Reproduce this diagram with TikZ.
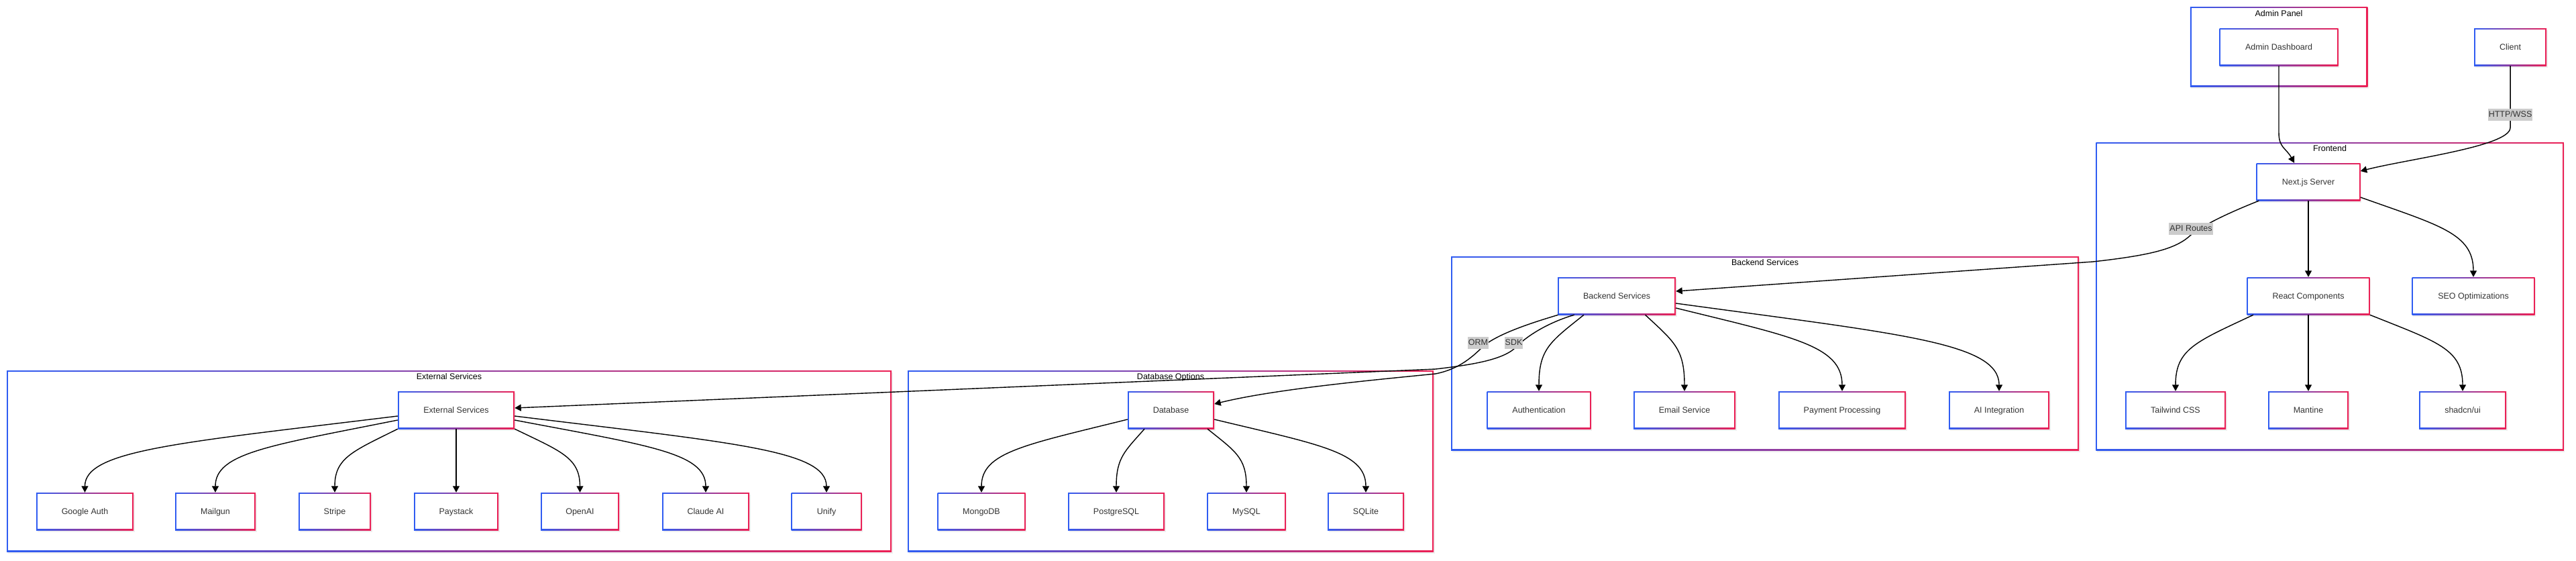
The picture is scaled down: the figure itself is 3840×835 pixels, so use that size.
\documentclass[tikz,border=0pt]{standalone}
\usepackage{fontspec}
\setmainfont{Liberation Sans}
\usetikzlibrary{arrows.meta,calc,shadows}
\definecolor{gblue}{HTML}{2F5CF2}
\definecolor{gred}{HTML}{EC2055}
\definecolor{txt}{HTML}{333333}
\definecolor{lblbg}{HTML}{CCCCCC}
\tikzset{
  gradbox/.style={shape=rectangle, left color=gblue, right color=gred, inner sep=0pt,
    text=txt, font=\fontsize{12.5}{15}\selectfont,
    drop shadow={shadow xshift=1.5pt, shadow yshift=-2.5pt, opacity=0.12},
    path picture={\fill[white] ([shift={(1.8pt,1.8pt)}]path picture bounding box.south west)
      rectangle ([shift={(-1.8pt,-1.8pt)}]path picture bounding box.north east);}},
  nodebox/.style={gradbox, minimum height=56pt, text height=9pt, text depth=0pt},
  groupbox/.style={gradbox},
  grouptitle/.style={font=\fontsize{12.5}{15}\selectfont, text=black, inner sep=0pt, anchor=base},
  lbl/.style={fill=lblbg, text=txt, font=\fontsize{12.5}{15}\selectfont, inner xsep=1pt,
    inner ysep=3pt, text height=9.5pt, text depth=2.5pt},
  link/.style={draw=black, line width=1.4pt, -{Triangle[length=9.5pt,width=10pt]}},
}
\begin{document}
\begin{tikzpicture}[x=1pt,y=-1pt]
\useasboundingbox[fill=white] (0,0) rectangle (3840,835);

% groups
\node[groupbox, minimum width=264.5pt, minimum height=119pt] (g-admin) at (3397,69.5) {};
\node[groupbox, minimum width=697.5pt, minimum height=459pt] (g-front) at (3473,441.5) {};
\node[groupbox, minimum width=936pt, minimum height=289pt] (g-back) at (2631,526.5) {};
\node[groupbox, minimum width=784pt, minimum height=270pt] (g-db) at (1745,687) {};
\node[groupbox, minimum width=1319pt, minimum height=270pt] (g-ext) at (669.5,687) {};

\node[grouptitle] (t-admin) at (3397,24.5) {Admin Panel};
\node[grouptitle] (t-front) at (3473,225.5) {Frontend};
\node[grouptitle] (t-back) at (2631,395.5) {Backend Services};
\node[grouptitle] (t-db) at (1745,565.5) {Database Options};
\node[grouptitle] (t-ext) at (669.5,565.5) {External Services};

% nodes
\node[nodebox, minimum width=177pt] (adm) at (3397,70) {Admin Dashboard};
\node[nodebox, minimum width=108pt] (client) at (3742,70) {Client};
\node[nodebox, minimum width=155pt] (next) at (3441,271) {Next.js Server};
\node[nodebox, minimum width=183pt] (react) at (3441,441) {React Components};
\node[nodebox, minimum width=183pt] (seo) at (3687,441) {SEO Optimizations};
\node[nodebox, minimum width=150pt] (tw) at (3243,611) {Tailwind CSS};
\node[nodebox, minimum width=120pt] (mantine) at (3441,611) {Mantine};
\node[nodebox, minimum width=130pt] (shad) at (3671,611) {shadcn/ui};

\node[nodebox, minimum width=176pt] (be) at (2410,441) {Backend Services};
\node[nodebox, minimum width=155pt] (auth) at (2294,611) {Authentication};
\node[nodebox, minimum width=152pt] (email) at (2511,611) {Email Service};
\node[nodebox, minimum width=190pt] (pay) at (2746,611) {Payment Processing};
\node[nodebox, minimum width=150pt] (ai) at (2980,611) {AI Integration};

\node[nodebox, minimum width=129pt] (db) at (1745.5,611) {Database};
\node[nodebox, minimum width=131pt] (mongo) at (1463,762) {MongoDB};
\node[nodebox, minimum width=144pt] (pg) at (1664,762) {PostgreSQL};
\node[nodebox, minimum width=117pt] (mysql) at (1858,762) {MySQL};
\node[nodebox, minimum width=114pt] (sqlite) at (2036,762) {SQLite};

\node[nodebox, minimum width=174pt] (ext) at (680,611) {External Services};
\node[nodebox, minimum width=145pt] (gauth) at (126.5,762) {Google Auth};
\node[nodebox, minimum width=120pt] (mailgun) at (321,762) {Mailgun};
\node[nodebox, minimum width=108pt] (stripe) at (499,762) {Stripe};
\node[nodebox, minimum width=126pt] (paystack) at (680,762) {Paystack};
\node[nodebox, minimum width=117pt] (openai) at (864.5,762) {OpenAI};
\node[nodebox, minimum width=130pt] (claude) at (1052,762) {Claude AI};
\node[nodebox, minimum width=105pt] (unify) at (1232,762) {Unify};

% edges
\draw[link] (adm.south) -- ++(0,100) .. controls +(0,22) and +(-12,-22) .. ([xshift=-21pt]next.north);
\draw[link] (client.south) -- ++(0,92) .. controls +(0,28) and +(70,-18) .. ([yshift=16pt]next.east);
\draw[link] ([xshift=4pt]next.south west) .. controls (3320,318) and (3285,335) .. (3266,350)
   .. controls (3245,370) and (3210,380) .. (3120,390) -- ([yshift=7pt]be.east);
\draw[link] (next.south) -- (react.north);
\draw[link] ([yshift=-23pt]next.east) .. controls +(118,42) and +(0,-65) .. (seo.north);
\draw[link] ([xshift=-82pt]react.south) .. controls +(-85,40) and +(0,-63) .. (tw.north);
\draw[link] (react.south) -- (mantine.north);
\draw[link] (react.south east) .. controls +(100,40) and +(0,-63) .. (shad.north);

\draw[link] ([xshift=-49pt]be.south) .. controls +(-50,40) and +(0,-63) .. (auth.north);
\draw[link] ([xshift=42.5pt]be.south) .. controls +(43,40) and +(0,-63) .. (email.north);
\draw[link] ([yshift=-18pt]be.east) .. controls +(174,43) and +(0,-68) .. (pay.north);
\draw[link] ([yshift=-11pt]be.east) .. controls +(337,46) and +(0,-72) .. (ai.north);
\draw[link] ([xshift=1pt]be.south west) .. controls (2280,482) and (2235,497) .. (2212,515)
   .. controls (2195,532) and (2175,550) .. (2140,557)
   .. controls (2040,567) and (1900,580) .. ([yshift=9pt]db.east);
\draw[link] ([xshift=25pt]be.south west) .. controls (2310,480) and (2280,498) .. (2262,515)
   .. controls (2245,535) and (2200,543) .. (2140,550) -- ([yshift=3pt]ext.east);

\draw[link] ([yshift=-14pt]db.west) .. controls +(-153,38) and +(0,-60) .. (mongo.north);
\draw[link] ([xshift=-39.5pt]db.south) .. controls +(-29,33) and +(0,-52) .. (pg.north);
\draw[link] ([xshift=54.5pt]db.south) .. controls +(41,33) and +(0,-52) .. (mysql.north);
\draw[link] ([yshift=-14pt]db.east) .. controls +(158,38) and +(0,-60) .. (sqlite.north);

\draw[link] ([yshift=-9pt]ext.west) .. controls +(-327,40) and +(0,-63) .. (gauth.north);
\draw[link] ([yshift=-15pt]ext.west) .. controls +(-190,38) and +(0,-59) .. (mailgun.north);
\draw[link] (ext.south west) .. controls +(-66,33) and +(0,-52) .. (stripe.north);
\draw[link] (ext.south) -- (paystack.north);
\draw[link] (ext.south east) .. controls +(68,33) and +(0,-52) .. (openai.north);
\draw[link] ([yshift=-15pt]ext.east) .. controls +(200,38) and +(0,-59) .. (claude.north);
\draw[link] ([yshift=-9pt]ext.east) .. controls +(326,40) and +(0,-63) .. (unify.north);

% edge labels
\node[lbl] (l-http) at (3742,171) {HTTP/WSS};
\node[lbl] (l-api) at (3266,341) {API Routes};
\node[lbl] (l-orm) at (2203.5,511) {ORM};
\node[lbl] (l-sdk) at (2256.5,511) {SDK};
\end{tikzpicture}
\end{document}
